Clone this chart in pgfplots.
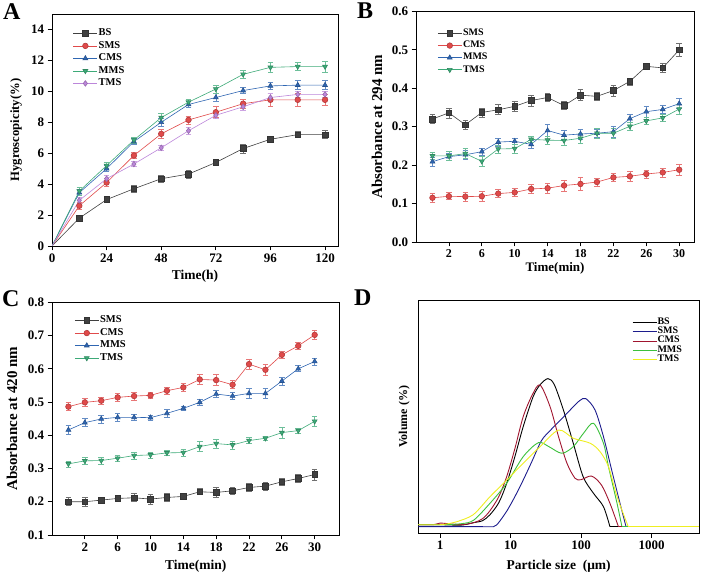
\documentclass[border=0pt]{standalone}
\usepackage{fontspec}
\setmainfont{Liberation Serif}
\usepackage{pgfplots}
\pgfplotsset{compat=1.18}
\definecolor{cgray}{HTML}{404040}
\definecolor{cred}{HTML}{E04A4A}
\definecolor{cblue}{HTML}{2F66B2}
\definecolor{cgreen}{HTML}{3DAA78}
\definecolor{cviolet}{HTML}{BC86DA}
\definecolor{dnavy}{HTML}{1C1C8C}
\definecolor{dred}{HTML}{A0142E}
\definecolor{dgreen}{HTML}{3CC03C}
\definecolor{dyellow}{HTML}{EEEE22}
\pgfplotsset{
  panel/.style={scale only axis, anchor=south west,
    axis line style={line width=0.8pt, black},
    tick style={line width=0.7pt, black},
    tick align=outside, xtick pos=left, ytick pos=left,
    /pgf/number format/assume math mode=true,
    ticklabel style={font=\bfseries\fontsize{13}{15}\selectfont},
    label style={font=\bfseries\fontsize{13.5}{16}\selectfont},
    legend cell align=left,
    legend style={draw=none, fill=none, anchor=north west, inner sep=0pt, row sep=1pt,
      font=\bfseries\fontsize{10.5}{11}\selectfont,
      nodes={inner sep=1pt, text height=7pt, text depth=2.5pt}},
    legend image code/.code={\draw[mark repeat=2,mark phase=2,##1] plot coordinates {(0pt,0pt)(12pt,0pt)(24pt,0pt)};},
  },
  dlegend/.style={legend image code/.code={\draw[##1] (0pt,0pt) -- (24pt,0pt);}},
  ser/.style 2 args={color=#1, line width=0.6pt, mark=#2, mark size=2.8pt,
    mark options={solid, fill=#1, draw=#1!80!black},
    error bars/y dir=both, error bars/y explicit,
    error bars/error bar style={#1!75, line width=0.6pt},
    error bars/error mark options={#1!75, line width=0.6pt, mark size=2.8pt, rotate=90}},
  dser/.style={color=#1, line width=0.9pt, smooth, tension=0.5, mark=none},
  down/.style={mark options={solid, fill=cgreen, draw=cgreen!80!black, rotate=180}},
}
\begin{document}
\begin{tikzpicture}
\path[use as bounding box] (0,0) rectangle (708pt,577pt);
% ---------------- A ----------------
\begin{axis}[panel, at={(52pt,331pt)}, width=286pt, height=232pt,
  xmin=0, xmax=125.7, ymin=0, ymax=15,
  xtick={0,24,48,72,96,120}, ytick={0,2,...,14},
  xlabel={Time(h)}, ylabel={Hygroscopicity(\%)},
  xlabel style={at={(0.5,0)}, anchor=center, yshift=-30.7pt},
  ylabel style={at={(0,0.5)}, anchor=center, yshift=36pt, font=\bfseries\fontsize{12.7}{15}\selectfont},
  legend style={at={(0.073,0.942)}}]
\addplot[ser={cgray}{square*}] coordinates {(12,1.8)+-(0,0.2) (24,3.0)+-(0,0.2) (36,3.7)+-(0,0.25) (48,4.35)+-(0,0.2) (60,4.65)+-(0,0.25) (72,5.4)+-(0,0.2) (84,6.3)+-(0,0.3) (96,6.9)+-(0,0.2) (108,7.2)+-(0,0.2) (120,7.2)+-(0,0.25)};
\addlegendentry{BS}
\addplot[ser={cred}{*}] coordinates {(12,2.6)+-(0,0.25) (24,4.1)+-(0,0.25) (36,5.85)+-(0,0.2) (48,7.25)+-(0,0.3) (60,8.15)+-(0,0.25) (72,8.65)+-(0,0.35) (84,9.2)+-(0,0.3) (96,9.45)+-(0,0.4) (108,9.45)+-(0,0.45) (120,9.45)+-(0,0.35)};
\addlegendentry{SMS}
\addplot[ser={cblue}{triangle*}] coordinates {(12,3.45)+-(0,0.2) (24,5.0)+-(0,0.2) (36,6.75)+-(0,0.2) (48,8.0)+-(0,0.25) (60,9.15)+-(0,0.2) (72,9.6)+-(0,0.25) (84,10.05)+-(0,0.2) (96,10.35)+-(0,0.25) (108,10.4)+-(0,0.3) (120,10.4)+-(0,0.3)};
\addlegendentry{CMS}
\addplot[ser={cgreen}{triangle*}, down] coordinates {(12,3.55)+-(0,0.25) (24,5.2)+-(0,0.2) (36,6.85)+-(0,0.2) (48,8.3)+-(0,0.25) (60,9.3)+-(0,0.2) (72,10.15)+-(0,0.25) (84,11.1)+-(0,0.25) (96,11.55)+-(0,0.3) (108,11.6)+-(0,0.25) (120,11.6)+-(0,0.35)};
\addlegendentry{MMS}
\addplot[ser={cviolet}{diamond*}] coordinates {(12,2.95)+-(0,0.2) (24,4.35)+-(0,0.2) (36,5.3)+-(0,0.15) (48,6.35)+-(0,0.15) (60,7.45)+-(0,0.2) (72,8.45)+-(0,0.2) (84,9.0)+-(0,0.25) (96,9.6)+-(0,0.25) (108,9.8)+-(0,0.2) (120,9.8)+-(0,0.2)};
\addlegendentry{TMS}
\addplot[forget plot, cgray, line width=0.6pt] coordinates {(0,0)(12,1.8)};
\addplot[forget plot, cred, line width=0.6pt] coordinates {(0,0)(12,2.6)};
\addplot[forget plot, cblue, line width=0.6pt] coordinates {(0,0)(12,3.45)};
\addplot[forget plot, cgreen, line width=0.6pt] coordinates {(0,0)(12,3.55)};
\addplot[forget plot, cviolet, line width=0.6pt] coordinates {(0,0)(12,2.95)};
\end{axis}
% ---------------- B ----------------
\begin{axis}[panel, at={(416pt,335pt)}, width=278pt, height=230.6pt,
  xmin=-2, xmax=31.8, ymin=0, ymax=0.6,
  xtick={2,6,...,30}, ytick={0,0.1,...,0.6},
  xticklabel style={font=\bfseries\fontsize{12}{13}\selectfont},
  yticklabel style={/pgf/number format/.cd, fixed, fixed zerofill, precision=1},
  xlabel={Time(min)}, ylabel={Absorbance at 294 nm},
  xlabel style={at={(0.5,0)}, anchor=center, yshift=-26pt, inner sep=0pt, font=\bfseries\fontsize{13}{14}\selectfont},
  ylabel style={at={(0,0.5)}, anchor=center, yshift=39pt, font=\bfseries\fontsize{15}{17}\selectfont},
  legend style={at={(0.0765,0.930)}, font=\bfseries\fontsize{10}{11}\selectfont, row sep=0.6pt}]
\addplot[ser={cgray}{square*}] coordinates {(0,.320)+-(0,.012) (2,.336)+-(0,.013) (4,.305)+-(0,.012) (6,.337)+-(0,.012) (8,.344)+-(0,.013) (10,.353)+-(0,.013) (12,.368)+-(0,.014) (14,.376)+-(0,.011) (16,.355)+-(0,.011) (18,.382)+-(0,.014) (20,.379)+-(0,.011) (22,.394)+-(0,.014) (24,.418)+-(0,.009) (26,.457)+-(0,.006) (28,.453)+-(0,.012) (30,.500)+-(0,.017)};
\addlegendentry{SMS}
\addplot[ser={cred}{*}] coordinates {(0,.115)+-(0,.012) (2,.119)+-(0,.009) (4,.118)+-(0,.011) (6,.119)+-(0,.012) (8,.126)+-(0,.011) (10,.129)+-(0,.010) (12,.138)+-(0,.011) (14,.140)+-(0,.013) (16,.147)+-(0,.014) (18,.151)+-(0,.017) (20,.156)+-(0,.011) (22,.168)+-(0,.010) (24,.171)+-(0,.012) (26,.177)+-(0,.010) (28,.181)+-(0,.012) (30,.188)+-(0,.014)};
\addlegendentry{CMS}
\addplot[ser={cblue}{triangle*}] coordinates {(0,.209)+-(0,.011) (2,.222)+-(0,.010) (4,.227)+-(0,.012) (6,.235)+-(0,.009) (8,.260)+-(0,.010) (10,.262)+-(0,.009) (12,.254)+-(0,.010) (14,.290)+-(0,.016) (16,.278)+-(0,.012) (18,.281)+-(0,.013) (20,.283)+-(0,.011) (22,.287)+-(0,.014) (24,.321)+-(0,.010) (26,.339)+-(0,.014) (28,.345)+-(0,.011) (30,.360)+-(0,.013)};
\addlegendentry{MMS}
\addplot[ser={cgreen}{triangle*}, down] coordinates {(0,.224)+-(0,.009) (2,.224)+-(0,.011) (4,.230)+-(0,.013) (6,.210)+-(0,.014) (8,.242)+-(0,.010) (10,.243)+-(0,.012) (12,.267)+-(0,.008) (14,.265)+-(0,.011) (16,.264)+-(0,.012) (18,.270)+-(0,.012) (20,.283)+-(0,.012) (22,.283)+-(0,.012) (24,.301)+-(0,.010) (26,.315)+-(0,.010) (28,.323)+-(0,.010) (30,.346)+-(0,.013)};
\addlegendentry{TMS}
\end{axis}
% ---------------- C ----------------
\begin{axis}[panel, at={(52pt,42pt)}, width=287.3pt, height=232.7pt,
  xmin=-2, xmax=33, ymin=0.1, ymax=0.8,
  xtick={2,6,...,30}, ytick={0.1,0.2,...,0.8},
  yticklabel style={/pgf/number format/.cd, fixed, fixed zerofill, precision=1},
  xlabel={Time(min)}, ylabel={Absorbance at 420 nm},
  xlabel style={at={(0.5,0)}, anchor=center, yshift=-31.7pt},
  ylabel style={at={(0,0.5)}, anchor=center, yshift=40pt, font=\bfseries\fontsize{15}{17}\selectfont},
  legend style={at={(0.0776,0.947)}}]
\addplot[ser={cgray}{square*}] coordinates {(0,.200)+-(0,.012) (2,.200)+-(0,.013) (4,.205)+-(0,.009) (6,.210)+-(0,.010) (8,.212)+-(0,.012) (10,.208)+-(0,.015) (12,.213)+-(0,.012) (14,.216)+-(0,.010) (16,.230)+-(0,.009) (18,.228)+-(0,.015) (20,.233)+-(0,.010) (22,.243)+-(0,.013) (24,.247)+-(0,.013) (26,.260)+-(0,.012) (28,.270)+-(0,.012) (30,.282)+-(0,.017)};
\addlegendentry{SMS}
\addplot[ser={cred}{*}] coordinates {(0,.486)+-(0,.012) (2,.499)+-(0,.013) (4,.504)+-(0,.010) (6,.514)+-(0,.012) (8,.518)+-(0,.012) (10,.520)+-(0,.010) (12,.534)+-(0,.010) (14,.544)+-(0,.011) (16,.568)+-(0,.014) (18,.566)+-(0,.016) (20,.552)+-(0,.012) (22,.614)+-(0,.016) (24,.597)+-(0,.016) (26,.642)+-(0,.010) (28,.669)+-(0,.011) (30,.702)+-(0,.013)};
\addlegendentry{CMS}
\addplot[ser={cblue}{triangle*}] coordinates {(0,.416)+-(0,.013) (2,.438)+-(0,.012) (4,.449)+-(0,.012) (6,.454)+-(0,.011) (8,.454)+-(0,.009) (10,.453)+-(0,.007) (12,.466)+-(0,.011) (14,.481)+-(0,.007) (16,.499)+-(0,.008) (18,.524)+-(0,.011) (20,.518)+-(0,.010) (22,.526)+-(0,.014) (24,.526)+-(0,.014) (26,.563)+-(0,.012) (28,.600)+-(0,.009) (30,.622)+-(0,.011)};
\addlegendentry{MMS}
\addplot[ser={cgreen}{triangle*}, down] coordinates {(0,.314)+-(0,.009) (2,.323)+-(0,.011) (4,.324)+-(0,.010) (6,.331)+-(0,.009) (8,.339)+-(0,.010) (10,.341)+-(0,.009) (12,.347)+-(0,.007) (14,.348)+-(0,.010) (16,.366)+-(0,.015) (18,.375)+-(0,.014) (20,.371)+-(0,.012) (22,.384)+-(0,.009) (24,.391)+-(0,.007) (26,.408)+-(0,.016) (28,.414)+-(0,.008) (30,.442)+-(0,.014)};
\addlegendentry{TMS}
\end{axis}
% ---------------- D ----------------
\begin{axis}[panel, dlegend, at={(418.3pt,43.7pt)}, width=280.7pt, height=233.3pt,
  xmode=log, log basis x=10, xmin=0.49, xmax=4720, ymin=-0.33, ymax=11.33,
  xtick={1,10,100,1000}, xticklabels={1,10,100,1000}, xminorticks=false,
  ytick=\empty,
  xlabel={Particle size\ \ (μm)}, ylabel={Volume (\%)},
  xlabel style={at={(0.5,0)}, anchor=center, yshift=-33pt},
  ylabel style={at={(0,0.5)}, anchor=center, yshift=14pt, font=\bfseries\fontsize{12}{14}\selectfont},
  legend style={at={(0.761,0.925)}, font=\bfseries\fontsize{10}{10}\selectfont, row sep=0.4pt,
    nodes={inner sep=0.5pt, text height=6pt, text depth=2pt}}]
\addplot[dser=black] coordinates {(0.49,0.1)(1,0.1)(2,0.08)(2.95,0.2)(4,0.3)(5.1,0.6)(6.8,1.2)(8.8,2.17)(11.5,3.5)(15.1,5.0)(20.9,6.5)(26.3,7.1)(33.9,7.4)(41.7,7.1)(56.2,5.83)(77.6,4.17)(107,2.5)(150,1.67)(208,1.0)(257,0)};
\addlegendentry{BS}
\addplot[dser=dnavy] coordinates {(0.49,0)(2,0)(4,0)(5.7,0)(6.3,0.08)(7.1,0.3)(8.9,0.8)(11.5,1.5)(15.1,2.33)(20,3.25)(27.4,4.3)(36.3,4.8)(50.1,5.3)(70.8,5.85)(95.5,6.3)(117,6.4)(158,5.83)(208,4.5)(272,2.83)(357,1.17)(435,0)};
\addlegendentry{SMS}
\addplot[dser=dred] coordinates {(0.49,0.1)(0.8,0.1)(1,0.18)(1.3,0.15)(2,0.1)(3,0.2)(4,0.4)(5.1,0.8)(6.8,1.5)(8.8,2.5)(11.5,3.9)(15.1,5.5)(20.4,6.6)(26.2,7.08)(36.3,6.0)(47.9,4.5)(63.1,3.17)(82.2,2.42)(100,2.35)(141,2.53)(195,2.08)(257,1.17)(339,0)};
\addlegendentry{CMS}
\addplot[dser=dgreen] coordinates {(0.49,0.1)(1,0.1)(2,0.15)(3,0.33)(5.1,1.17)(8.8,2.17)(15.1,3.5)(24.8,4.2)(35,4.0)(53.2,3.67)(77.6,4.0)(110,4.7)(150,5.17)(208,4.17)(245,3.0)(324,1.17)(380,0)};
\addlegendentry{MMS}
\addplot[dser=dyellow] coordinates {(0.49,0.1)(1,0.1)(1.4,0.17)(1.73,0.25)(2.95,0.6)(5.1,1.5)(8.8,2.33)(15.1,3.17)(26.2,4.0)(47.9,4.83)(77.6,4.42)(135,4.17)(186,3.75)(245,3.0)(324,1.5)(468,0)};
\addlegendentry{TMS}
\addplot[forget plot, black, line width=0.9pt] coordinates {(257,0)(4720,0)};
\addplot[forget plot, dnavy, line width=0.9pt] coordinates {(435,0)(4720,0)};
\addplot[forget plot, dred, line width=0.9pt] coordinates {(339,0)(4720,0)};
\addplot[forget plot, dgreen, line width=0.9pt] coordinates {(380,0)(4720,0)};
\addplot[forget plot, dyellow, line width=0.9pt] coordinates {(468,0)(4720,0)};
\end{axis}
\node[font=\bfseries\fontsize{24}{24}\selectfont, anchor=north west, inner sep=0pt] at (3pt,574pt) {A};
\node[font=\bfseries\fontsize{24}{24}\selectfont, anchor=north west, inner sep=0pt] at (357pt,574pt) {B};
\node[font=\bfseries\fontsize{24}{24}\selectfont, anchor=north west, inner sep=0pt] at (2pt,287pt) {C};
\node[font=\bfseries\fontsize{24}{24}\selectfont, anchor=north west, inner sep=0pt] at (354pt,287pt) {D};
\end{tikzpicture}
\end{document}
